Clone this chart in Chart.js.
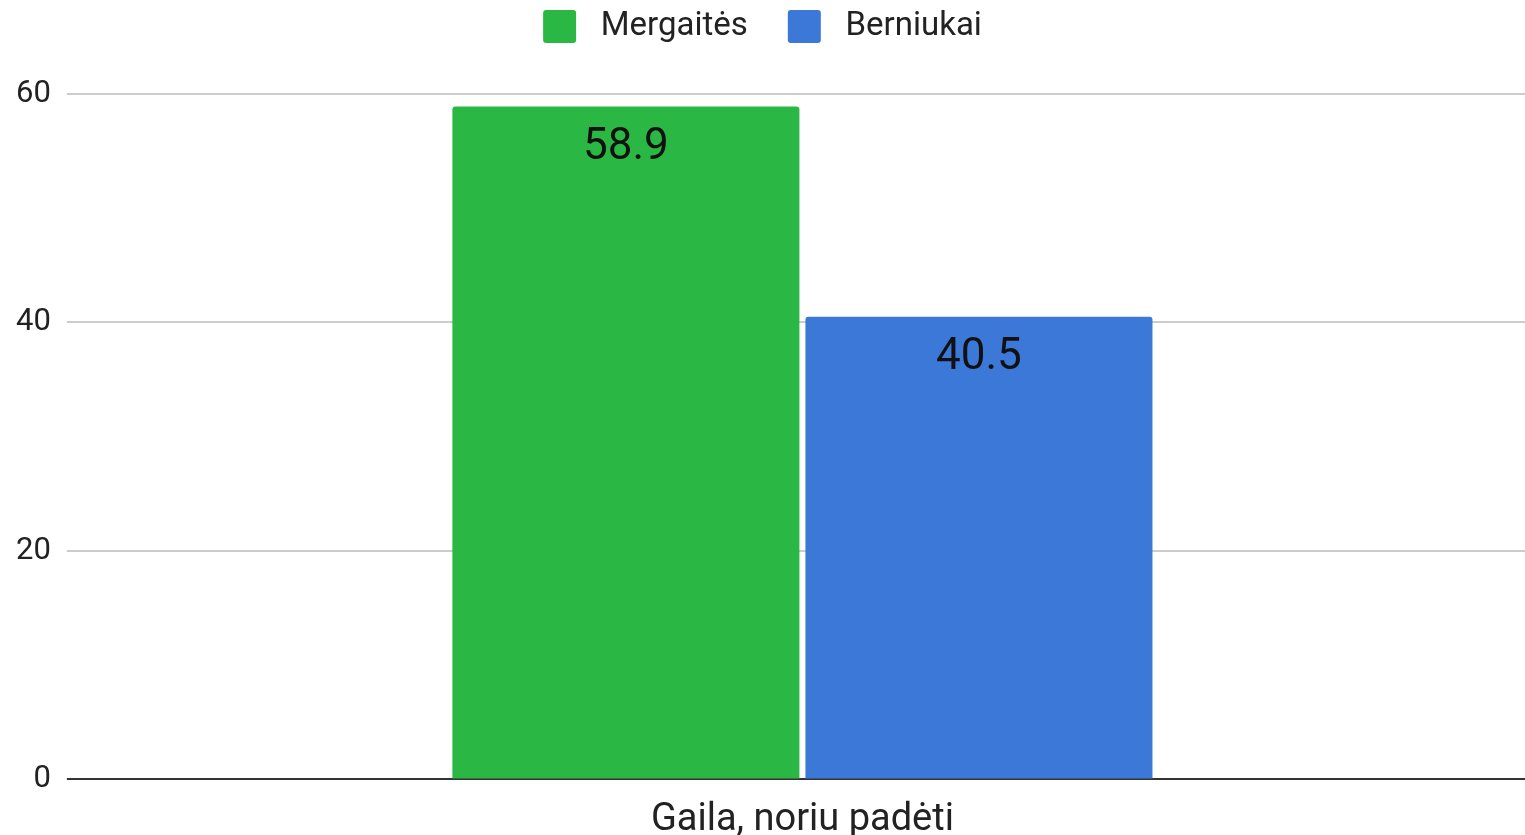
<!DOCTYPE html>
<html>
<head>
  <meta charset="utf-8">
  <title>Gaila, noriu padėti</title>
  <script src="https://cdn.jsdelivr.net/npm/chart.js"></script>
  <style>
    html, body { margin: 0; padding: 0; background: #fff; }
    #wrap { width: 1525px; height: 835px; }
  </style>
</head>
<body>
  <div id="wrap"><canvas id="chart"></canvas></div>

  <script>
    // chart data
    const categories = ['Gaila, noriu padėti'];
    const seriesNames = ['Mergaitės', 'Berniukai'];
    const girls = [58.9];
    const boys = [40.5];
    const seriesColors = ['#2bb744', '#3c78d8'];

    // draws the value inside the top of each bar
    const barValues = {
      id: 'barValues',
      afterDatasetsDraw(chart) {
        const c = chart.ctx;
        c.save();
        c.font = '44px Roboto';
        c.fillStyle = '#111';
        c.textAlign = 'center';
        c.textBaseline = 'top';
        chart.data.datasets.forEach((ds, i) => {
          chart.getDatasetMeta(i).data.forEach((bar, j) => {
            c.fillText(String(ds.data[j]), bar.x, bar.y + 19);
          });
        });
        c.restore();
      }
    };

    // leave some more room under the legend
    const legendGap = {
      id: 'legendGap',
      beforeInit(chart) {
        const fit = chart.legend.fit;
        chart.legend.fit = function () {
          fit.call(this);
          this.height += 41;
        };
      }
    };

    const ctx = document.getElementById('chart').getContext('2d');
    const chart = new Chart(ctx, {
      type: 'bar',
      data: {
        labels: categories,
        datasets: [
          {
            label: seriesNames[0],
            data: girls,
            backgroundColor: seriesColors[0],
            borderRadius: { topLeft: 3, topRight: 3 },
            borderSkipped: 'bottom'
          },
          {
            label: seriesNames[1],
            data: boys,
            backgroundColor: seriesColors[1],
            borderRadius: { topLeft: 3, topRight: 3 },
            borderSkipped: 'bottom'
          }
        ]
      },
      options: {
        responsive: true,
        maintainAspectRatio: false,
        animation: false,
        categoryPercentage: 0.4886,
        barPercentage: 0.983,
        layout: { padding: { top: -30, right: 0, left: 0, bottom: -18 } },
        plugins: {
          legend: {
            position: 'top',
            labels: {
              font: { family: 'Roboto', size: 33 },
              color: '#222',
              boxWidth: 33,
              boxHeight: 33,
              padding: 40,
              useBorderRadius: true,
              borderRadius: 3,
              generateLabels(chart) {
                const items = Chart.defaults.plugins.legend.labels.generateLabels(chart);
                items.forEach(it => { it.text = ' ' + it.text; });
                return items;
              }
            }
          },
          tooltip: { enabled: false }
        },
        scales: {
          x: {
            grid: { display: false },
            border: { display: false },
            ticks: {
              font: { family: 'Roboto', size: 38 },
              color: '#222',
              padding: 10
            }
          },
          y: {
            min: 0,
            max: 60,
            ticks: {
              stepSize: 20,
              font: { family: 'Roboto', size: 31 },
              color: '#222',
              padding: 16
            },
            grid: {
              color: (c) => c.tick && c.tick.value === 0 ? '#333' : '#cccccc',
              lineWidth: 2,
              tickLength: 13,
              drawTicks: true
            },
            border: { display: false }
          }
        }
      },
      plugins: [barValues, legendGap]
    });
  </script>
</body>
</html>
